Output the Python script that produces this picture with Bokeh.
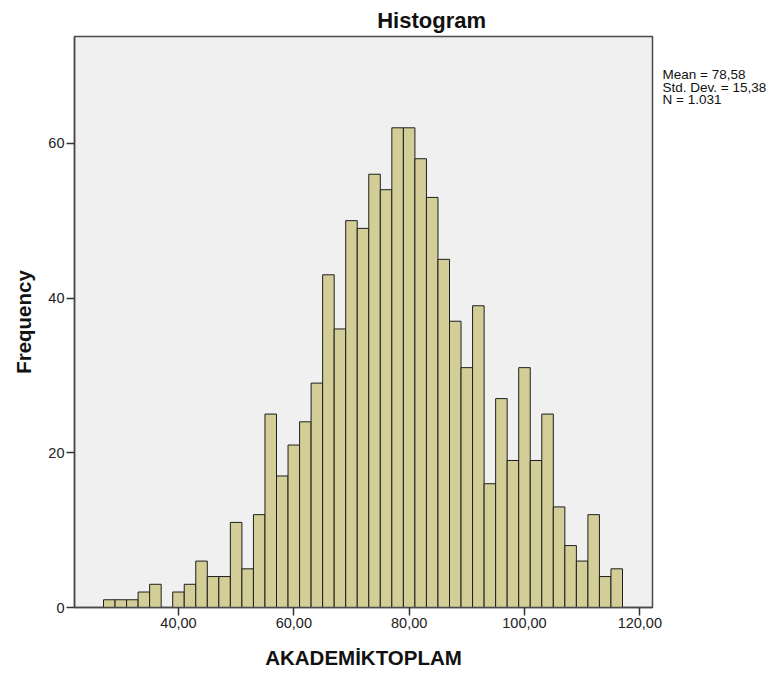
from bokeh.plotting import figure
from bokeh.models import FixedTicker, Range1d, ColumnDataSource, LinearAxis
from bokeh.embed import file_html
from bokeh.resources import INLINE

# ---- data ----
bin_width = 2
bin_lefts = [27, 29, 31, 33, 35, 37, 39, 41, 43, 45, 47, 49, 51, 53, 55,
             57, 59, 61, 63, 65, 67, 69, 71, 73, 75, 77, 79, 81, 83, 85,
             87, 89, 91, 93, 95, 97, 99, 101, 103, 105, 107, 109, 111, 113, 115]
counts = [1, 1, 1, 2, 3, 0, 2, 3, 6, 4, 4, 11, 5, 12, 25,
          17, 21, 24, 29, 43, 36, 50, 49, 56, 54, 62, 62, 58, 53, 45,
          37, 31, 39, 16, 27, 19, 31, 19, 25, 13, 8, 6, 12, 4, 5]
x_ticks = [40, 60, 80, 100, 120]
x_tick_labels = ["40,00", "60,00", "80,00", "100,00", "120,00"]
y_ticks = [0, 20, 40, 60]
stats_lines = ["Mean = 78,58", "Std. Dev. = 15,38", "N = 1.031"]
title_text = "Histogram"
x_label = "AKADEMİKTOPLAM"
y_label = "Frequency"

FONT = "Liberation Sans"

src = ColumnDataSource(dict(
    left=bin_lefts,
    right=[b + bin_width for b in bin_lefts],
    top=counts,
    bottom=[0] * len(counts),
))

p = figure(width=783, height=677, output_backend="svg", toolbar_location=None,
           x_range=Range1d(21.97, 122.2), y_range=Range1d(0, 73.8),
           min_border_left=74, min_border_right=131, min_border_top=36,
           min_border_bottom=70)

p.background_fill_color = "#F0F0F0"
p.border_fill_color = "white"
p.outline_line_color = "#4a4a4a"
p.outline_line_width = 1.5
p.xgrid.visible = False
p.ygrid.visible = False

# title
p.title.text = title_text
p.title.align = "left"
p.title.offset = 302.7
p.title.standoff = 7
p.title.text_font = FONT
p.title.text_font_size = "22px"
p.title.text_font_style = "bold"
p.title.text_color = "#111111"

p.quad(left="left", right="right", top="top", bottom="bottom", source=src,
       fill_color="#D3CE97", line_color="#1e1e1e", line_width=1)

for ax in (p.xaxis[0], p.yaxis[0]):
    ax.axis_line_color = "#4a4a4a"
    ax.axis_line_width = 1.5
    ax.major_tick_line_color = "#333333"
    ax.major_tick_line_width = 1.5
    ax.major_tick_in = 0
    ax.major_tick_out = 8
    ax.minor_tick_line_color = None
    ax.major_label_text_font = FONT
    ax.major_label_text_font_size = "14.5px"
    ax.major_label_text_color = "#222222"
    ax.major_label_standoff = 2
    ax.axis_label_text_font = FONT
    ax.axis_label_text_font_size = "20.5px"
    ax.axis_label_text_font_style = "bold"
    ax.axis_label_text_color = "#111111"

p.xaxis[0].ticker = FixedTicker(ticks=x_ticks)
p.xaxis[0].major_label_overrides = {t: s for t, s in zip(x_ticks, x_tick_labels)}
p.xaxis[0].axis_label = x_label
p.xaxis[0].axis_label_standoff = 15
p.yaxis[0].ticker = FixedTicker(ticks=y_ticks)
p.yaxis[0].axis_label = y_label
p.yaxis[0].axis_label_standoff = 10

# statistics text beside the frame, as labels of a bare right-hand axis
stats_pos = [533.0, 520.5, 508.0]   # pixel offsets from frame bottom
p.extra_y_ranges = {"stats": Range1d(0, 571)}
stats_axis = LinearAxis(y_range_name="stats",
                        ticker=FixedTicker(ticks=stats_pos),
                        major_label_overrides={t: s for t, s in zip(stats_pos, stats_lines)})
stats_axis.axis_line_color = None
stats_axis.major_tick_line_color = None
stats_axis.minor_tick_line_color = None
stats_axis.major_tick_out = 0
stats_axis.major_tick_in = 0
stats_axis.major_label_standoff = 10
stats_axis.major_label_text_font = FONT
stats_axis.major_label_text_font_size = "13.5px"
stats_axis.major_label_text_color = "#111111"
p.add_layout(stats_axis, "right")

open("out.html", "w").write(file_html(p, INLINE))
